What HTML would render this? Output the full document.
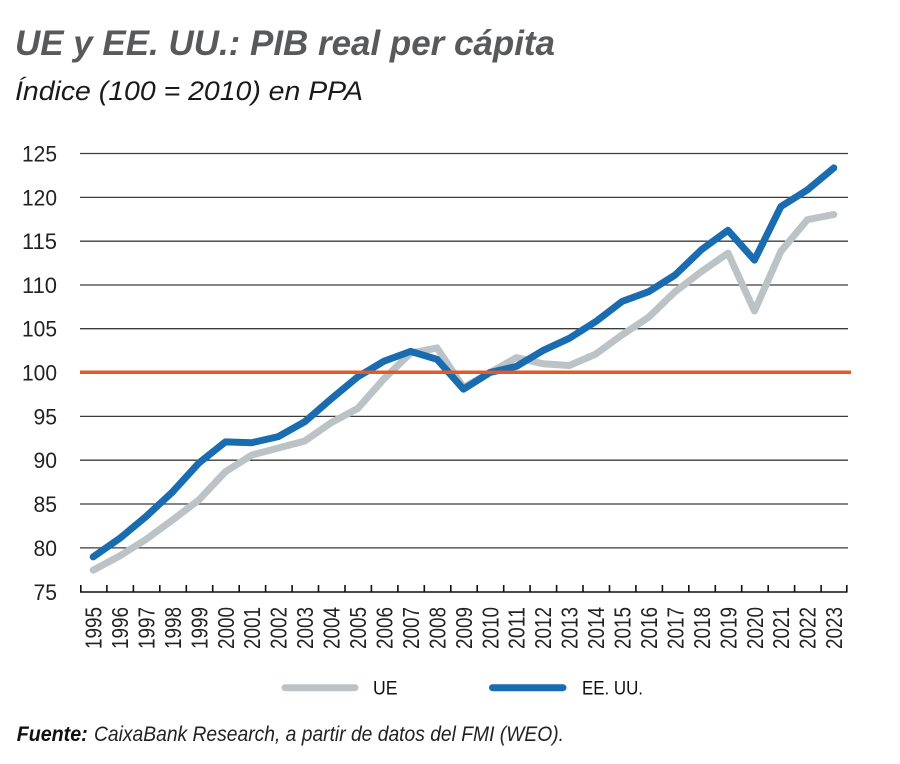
<!DOCTYPE html>
<html><head><meta charset="utf-8"><style>
html,body{margin:0;padding:0;background:#fff;}
svg{display:block;}
</style></head><body>
<svg width="900" height="764" viewBox="0 0 900 764" xmlns="http://www.w3.org/2000/svg">
<rect width="900" height="764" fill="#fff"/>
<text x="15" y="55" font-family="Liberation Sans, sans-serif" font-size="35" font-weight="bold" font-style="italic" fill="#58595b" textLength="540" lengthAdjust="spacingAndGlyphs">UE y EE. UU.: PIB real per cápita</text>
<text x="15" y="100" font-family="Liberation Sans, sans-serif" font-size="27" font-style="italic" fill="#1a1a1a" textLength="348" lengthAdjust="spacingAndGlyphs">Índice (100 = 2010) en PPA</text>

<g stroke="#3c3c3c" stroke-width="1.3">
<line x1="80" x2="848" y1="153.5" y2="153.5"/>
<line x1="80" x2="848" y1="197.4" y2="197.4"/>
<line x1="80" x2="848" y1="241.2" y2="241.2"/>
<line x1="80" x2="848" y1="285.0" y2="285.0"/>
<line x1="80" x2="848" y1="328.7" y2="328.7"/>
<line x1="80" x2="848" y1="416.4" y2="416.4"/>
<line x1="80" x2="848" y1="460.2" y2="460.2"/>
<line x1="80" x2="848" y1="504.0" y2="504.0"/>
<line x1="80" x2="848" y1="547.9" y2="547.9"/>
</g>

<g font-family="Liberation Sans, sans-serif" font-size="22" fill="#222" text-anchor="end">
<text x="57" y="161.5" textLength="35" lengthAdjust="spacingAndGlyphs">125</text>
<text x="57" y="205.4" textLength="35" lengthAdjust="spacingAndGlyphs">120</text>
<text x="57" y="249.2" textLength="35" lengthAdjust="spacingAndGlyphs">115</text>
<text x="57" y="293.0" textLength="35" lengthAdjust="spacingAndGlyphs">110</text>
<text x="57" y="336.7" textLength="35" lengthAdjust="spacingAndGlyphs">105</text>
<text x="57" y="380.5" textLength="35" lengthAdjust="spacingAndGlyphs">100</text>
<text x="57" y="424.4" textLength="23.5" lengthAdjust="spacingAndGlyphs">95</text>
<text x="57" y="468.2" textLength="23.5" lengthAdjust="spacingAndGlyphs">90</text>
<text x="57" y="512.0" textLength="23.5" lengthAdjust="spacingAndGlyphs">85</text>
<text x="57" y="555.9" textLength="23.5" lengthAdjust="spacingAndGlyphs">80</text>
<text x="57" y="600.0" textLength="23.5" lengthAdjust="spacingAndGlyphs">75</text>
</g>

<!-- x axis -->
<g stroke="#111" stroke-width="1.6">
<line x1="80" x2="847.5" y1="592" y2="592"/>
<path d="M80.8 592V585 M106.9 592V585 M133.4 592V585 M159.8 592V585 M186.3 592V585 M212.7 592V585 M239.2 592V585 M265.6 592V585 M292.1 592V585 M318.5 592V585 M345.0 592V585 M371.4 592V585 M397.9 592V585 M424.3 592V585 M450.8 592V585 M477.2 592V585 M503.7 592V585 M530.1 592V585 M556.6 592V585 M583.0 592V585 M609.5 592V585 M635.9 592V585 M662.4 592V585 M688.8 592V585 M715.3 592V585 M741.7 592V585 M768.2 592V585 M794.6 592V585 M821.1 592V585 M846.8 592V585"/>
</g>

<g font-family="Liberation Sans, sans-serif" font-size="23" fill="#222" text-anchor="end">
<text transform="translate(101.5,607) rotate(-90)" textLength="42" lengthAdjust="spacingAndGlyphs">1995</text>
<text transform="translate(127.95,607) rotate(-90)" textLength="42" lengthAdjust="spacingAndGlyphs">1996</text>
<text transform="translate(154.4,607) rotate(-90)" textLength="42" lengthAdjust="spacingAndGlyphs">1997</text>
<text transform="translate(180.85,607) rotate(-90)" textLength="42" lengthAdjust="spacingAndGlyphs">1998</text>
<text transform="translate(207.3,607) rotate(-90)" textLength="42" lengthAdjust="spacingAndGlyphs">1999</text>
<text transform="translate(233.75,607) rotate(-90)" textLength="42" lengthAdjust="spacingAndGlyphs">2000</text>
<text transform="translate(260.2,607) rotate(-90)" textLength="42" lengthAdjust="spacingAndGlyphs">2001</text>
<text transform="translate(286.65,607) rotate(-90)" textLength="42" lengthAdjust="spacingAndGlyphs">2002</text>
<text transform="translate(313.1,607) rotate(-90)" textLength="42" lengthAdjust="spacingAndGlyphs">2003</text>
<text transform="translate(339.55,607) rotate(-90)" textLength="42" lengthAdjust="spacingAndGlyphs">2004</text>
<text transform="translate(366.0,607) rotate(-90)" textLength="42" lengthAdjust="spacingAndGlyphs">2005</text>
<text transform="translate(392.45,607) rotate(-90)" textLength="42" lengthAdjust="spacingAndGlyphs">2006</text>
<text transform="translate(418.9,607) rotate(-90)" textLength="42" lengthAdjust="spacingAndGlyphs">2007</text>
<text transform="translate(445.35,607) rotate(-90)" textLength="42" lengthAdjust="spacingAndGlyphs">2008</text>
<text transform="translate(471.8,607) rotate(-90)" textLength="42" lengthAdjust="spacingAndGlyphs">2009</text>
<text transform="translate(498.25,607) rotate(-90)" textLength="42" lengthAdjust="spacingAndGlyphs">2010</text>
<text transform="translate(524.7,607) rotate(-90)" textLength="42" lengthAdjust="spacingAndGlyphs">2011</text>
<text transform="translate(551.15,607) rotate(-90)" textLength="42" lengthAdjust="spacingAndGlyphs">2012</text>
<text transform="translate(577.6,607) rotate(-90)" textLength="42" lengthAdjust="spacingAndGlyphs">2013</text>
<text transform="translate(604.05,607) rotate(-90)" textLength="42" lengthAdjust="spacingAndGlyphs">2014</text>
<text transform="translate(630.5,607) rotate(-90)" textLength="42" lengthAdjust="spacingAndGlyphs">2015</text>
<text transform="translate(656.95,607) rotate(-90)" textLength="42" lengthAdjust="spacingAndGlyphs">2016</text>
<text transform="translate(683.4,607) rotate(-90)" textLength="42" lengthAdjust="spacingAndGlyphs">2017</text>
<text transform="translate(709.85,607) rotate(-90)" textLength="42" lengthAdjust="spacingAndGlyphs">2018</text>
<text transform="translate(736.3,607) rotate(-90)" textLength="42" lengthAdjust="spacingAndGlyphs">2019</text>
<text transform="translate(762.75,607) rotate(-90)" textLength="42" lengthAdjust="spacingAndGlyphs">2020</text>
<text transform="translate(789.2,607) rotate(-90)" textLength="42" lengthAdjust="spacingAndGlyphs">2021</text>
<text transform="translate(815.65,607) rotate(-90)" textLength="42" lengthAdjust="spacingAndGlyphs">2022</text>
<text transform="translate(842.1,607) rotate(-90)" textLength="42" lengthAdjust="spacingAndGlyphs">2023</text>
</g>

<!-- UE series -->
<polyline fill="none" stroke="#bcc3c6" stroke-width="7" stroke-linejoin="round" stroke-linecap="round"
points="93.2,570.1 119.65,556.0 146.1,539.3 172.55,520.0 199.0,499.8 225.45,471.7 251.9,455.0 278.35,448.0 304.8,441.0 331.25,422.6 357.7,408.5 384.15,378.6 410.6,353.2 437.05,347.9 463.5,387.4 489.95,372.5 516.4,357.6 542.85,363.7 569.3,365.5 595.75,354.1 622.2,334.8 648.65,317.2 675.1,291.7 701.55,271.5 728.0,253.1 754.45,311.0 780.9,251.3 807.35,219.7 833.8,214.5"/>

<!-- US series -->
<polyline fill="none" stroke="#1a6cb0" stroke-width="7" stroke-linejoin="round" stroke-linecap="round"
points="93.2,556.9 119.65,538.4 146.1,516.5 172.55,491.9 199.0,462.9 225.45,441.9 251.9,442.7 278.35,436.6 304.8,421.7 331.25,398.8 357.7,376.9 384.15,361.1 410.6,351.4 437.05,359.3 463.5,389.2 489.95,372.5 516.4,366.4 542.85,350.6 569.3,338.3 595.75,321.6 622.2,301.4 648.65,291.7 675.1,275.0 701.55,249.6 728.0,230.3 754.45,260.1 780.9,206.6 807.35,189.9 833.8,167.9"/>

<!-- 100 reference line -->
<line x1="80" x2="851" y1="372.3" y2="372.3" stroke="#e35a2a" stroke-width="3.5"/>

<!-- legend -->
<line x1="285" x2="355" y1="687.7" y2="687.7" stroke="#bcc3c6" stroke-width="7" stroke-linecap="round"/>
<text x="373" y="694.3" font-family="Liberation Sans, sans-serif" font-size="19" fill="#111" textLength="24.5" lengthAdjust="spacingAndGlyphs">UE</text>
<line x1="492.5" x2="563" y1="687.7" y2="687.7" stroke="#1a6cb0" stroke-width="7" stroke-linecap="round"/>
<text x="582" y="694.3" font-family="Liberation Sans, sans-serif" font-size="19" fill="#111" textLength="61" lengthAdjust="spacingAndGlyphs">EE. UU.</text>

<!-- footer -->
<text x="16.7" y="741" font-family="Liberation Sans, sans-serif" font-size="21" font-weight="bold" font-style="italic" fill="#111" textLength="71" lengthAdjust="spacingAndGlyphs">Fuente:</text>
<text x="94" y="741" font-family="Liberation Sans, sans-serif" font-size="21" font-style="italic" fill="#222" textLength="470" lengthAdjust="spacingAndGlyphs">CaixaBank Research, a partir de datos del FMI (WEO).</text>
</svg>
</body></html>
